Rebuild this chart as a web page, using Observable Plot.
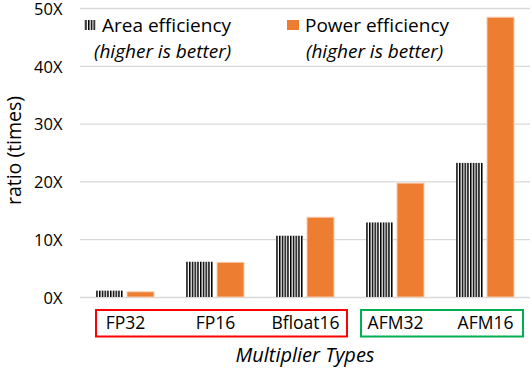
<!DOCTYPE html>
<html><head><meta charset="utf-8">
<script src="https://cdn.jsdelivr.net/npm/d3@7"></script>
<script src="https://cdn.jsdelivr.net/npm/@observablehq/plot@0.6"></script>
<style>body{margin:0;background:#fff} #chart{width:532px;height:370px}</style>
</head><body><div id="chart"></div>
<script>
const categories = ["FP32", "FP16", "Bfloat16", "AFM32", "AFM16"];
const areaEfficiency = [1.1, 6.1, 10.6, 12.9, 23.2];
const powerEfficiency = [0.9, 6.0, 13.8, 19.7, 48.4];
const seriesNames = ["Area efficiency", "Power efficiency"];
const seriesNotes = ["(higher is better)", "(higher is better)"];
const yTicks = [0, 10, 20, 30, 40, 50];
const yLabel = "ratio (times)";
const xLabel = "Multiplier Types";
const groupRed = ["FP32", "FP16", "Bfloat16"];
const groupGreen = ["AFM32", "AFM16"];

const ORANGE = "#ED7D31";
const FONT = "'Open Sans', sans-serif";

const rows = categories.flatMap((c, i) => [
  {category: c, series: seriesNames[0], value: areaEfficiency[i]},
  {category: c, series: seriesNames[1], value: powerEfficiency[i]}
]);

const plot = Plot.plot({
  width: 532, height: 370,
  marginLeft: 80, marginRight: 2, marginTop: 8, marginBottom: 73,
  style: {fontFamily: FONT, fontSize: "17px", color: "#000", background: "#fff", overflow: "visible"},
  fx: {domain: categories, padding: 0, axis: null, label: null},
  x: {domain: seriesNames, paddingInner: 0.13, paddingOuter: 0.516, axis: null},
  y: {domain: [0, 50]},
  marks: [
    Plot.gridY(yTicks, {stroke: "#d9d9d9", strokeOpacity: 1, strokeWidth: 1.3}),
    Plot.axisY(yTicks, {tickSize: 0, tickPadding: 18, tickFormat: d => d + "X", label: null, fontSize: 16.5, dy: 1}),
    Plot.barY(rows.filter(d => d.series === seriesNames[0]), {fx: "category", x: "series", y: "value", fill: "url(#vstripes)"}),
    Plot.barY(rows.filter(d => d.series === seriesNames[1]), {fx: "category", x: "series", y: "value", fill: ORANGE, stroke: "#F8CBAD", strokeWidth: 1}),
    Plot.text(categories, {fx: d => d, text: d => d, frameAnchor: "bottom", lineAnchor: "middle", dy: 26, fontSize: 17.5})
  ]
});
document.getElementById("chart").appendChild(plot);

const svg = d3.select(plot);
const fx = plot.scale("fx");
const y = plot.scale("y");
const bw = fx.bandwidth;
const y0 = y.apply(0), yTop = y.apply(50);

// stripe pattern
const defs = svg.insert("defs", ":first-child");
const pat = defs.append("pattern").attr("id", "vstripes").attr("patternUnits", "userSpaceOnUse")
  .attr("width", 2.75).attr("height", 10);
pat.append("rect").attr("width", 2.75).attr("height", 10).attr("fill", "#fff");
pat.append("rect").attr("width", 1.5).attr("height", 10).attr("fill", "#000");

const g = svg.append("g").attr("font-family", FONT).attr("text-anchor", "start");

// group boxes
function box(members, color, insetL, insetR) {
  const x0 = fx.apply(members[0]) + insetL;
  const x1 = fx.apply(members[members.length - 1]) + bw - insetR;
  g.append("rect").attr("x", x0).attr("y", y0 + 13).attr("width", x1 - x0).attr("height", 26.5)
    .attr("fill", "none").attr("stroke", color).attr("stroke-width", 2);
}
box(groupRed, "#FF0000", 16, 3);
box(groupGreen, "#00B050", 11, 7);

// axis titles
g.append("text").attr("transform", `translate(13,${(y0 + yTop) / 2 - 2}) rotate(-90)`)
  .attr("text-anchor", "middle").attr("dominant-baseline", "central")
  .attr("font-size", 19.5).text(yLabel);
g.append("text").attr("x", (fx.range[0] + fx.range[1]) / 2).attr("y", y0 + 65)
  .attr("text-anchor", "middle").attr("font-size", 20).attr("font-style", "italic").text(xLabel);

// legend
const legendX = [84, 287];
const legendTextX = [102, 305];
const noteX = [94, 306];
seriesNames.forEach((name, i) => {
  g.append("rect").attr("x", legendX[i]).attr("y", 20).attr("width", 12).attr("height", 10)
    .attr("fill", i === 0 ? "url(#vstripes)" : ORANGE);
  g.append("text").attr("x", legendTextX[i]).attr("y", 31.5).attr("font-size", 19).text(name);
  g.append("text").attr("x", noteX[i]).attr("y", 58)
    .attr("font-size", 19).attr("font-style", "italic").text(seriesNotes[i]);
});
</script>
</body></html>
